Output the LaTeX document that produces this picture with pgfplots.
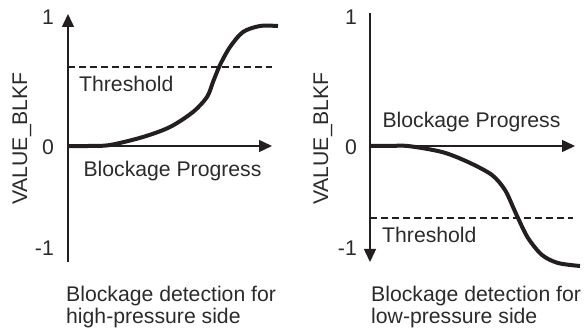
\documentclass[border=0pt]{standalone}
\usepackage{fontspec}
\setmainfont{Liberation Sans}
\usepackage{pgfplots}
\pgfplotsset{compat=1.18}
\usetikzlibrary{arrows.meta}

\definecolor{ink}{HTML}{231F20}
\definecolor{txt}{HTML}{2B2B2B}

\pgfplotsset{
  blk/.style={
    x=1bp, y=1bp,
    axis lines=middle,
    anchor=origin,
    major tick length=0pt,
    xtick=\empty,
    ytick={-102,-1,129},
    yticklabels={-1,0,1},
    yticklabel style={anchor=east, inner sep=0pt, text=txt},
    axis line style={line width=1.5bp, ink},
    x axis line style={-{Triangle[length=13bp,width=12bp]}},
    clip=false,
    ymin=-116, ymax=132,
  },
  curve/.style={line width=4bp, ink, smooth, no marks},
  thr/.style={line width=1.4bp, ink, dash pattern=on 7bp off 4bp, no marks},
}
\tikzset{lbl/.style={inner sep=0pt, text=txt}}

\begin{document}
\fontsize{21.2bp}{24bp}\selectfont
\begin{tikzpicture}
\path[use as bounding box] (0,0) rectangle (588bp,329bp);

% high-pressure side
\begin{axis}[blk, at={(68bp,183bp)}, xmin=0, xmax=204,
    y axis line style={-{Triangle[length=13bp,width=12bp]}},
    yticklabel style={xshift=-14bp}]
\addplot[curve] coordinates {
  (0,0) (20,0) (42,1) (75,9) (102,19) (125,34) (139,49) (145,64)
  (152,81) (162,99) (175,114) (192,120) (210,120)
};
\addplot[thr] coordinates {(0,79) (204,79)};
\node[lbl, anchor=base west] at (axis cs:11,54) {Threshold};
\node[lbl, anchor=base] at (axis cs:104.5,-31) {Blockage Progress};
\node[lbl, rotate=90, anchor=center] at (axis cs:-46,7.5) {VALUE\_BLKF};
\node[lbl, anchor=base west] at (axis cs:-2,-156) {Blockage detection for};
\node[lbl, anchor=base west] at (axis cs:-2,-178) {high-pressure side};
\end{axis}

% low-pressure side
\begin{axis}[blk, at={(370bp,183bp)}, xmin=0, xmax=205, ymax=133,
    y axis line style={{Triangle[length=13bp,width=12bp]}-},
    yticklabel style={xshift=-13bp}]
\addplot[curve] coordinates {
  (0,0) (20,0) (38,0) (72,-6) (98,-16) (122,-29) (135,-44) (143,-61)
  (148,-72) (158,-92) (172,-109) (188,-117) (210,-120)
};
\addplot[thr] coordinates {(0,-72) (203,-72)};
\node[lbl, anchor=base west] at (axis cs:12,-97) {Threshold};
\node[lbl, anchor=base] at (axis cs:101.5,18) {Blockage Progress};
\node[lbl, rotate=90, anchor=center] at (axis cs:-47,7.5) {VALUE\_BLKF};
\node[lbl, anchor=base west] at (axis cs:1,-156) {Blockage detection for};
\node[lbl, anchor=base west] at (axis cs:1,-178) {low-pressure side};
\end{axis}
\end{tikzpicture}
\end{document}
